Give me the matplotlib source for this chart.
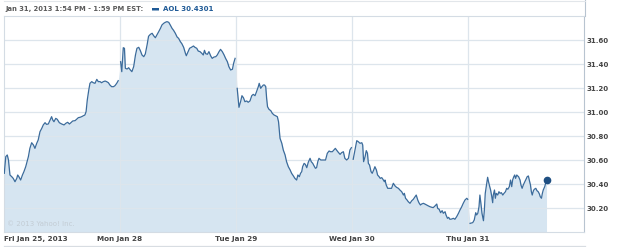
import numpy as np
import matplotlib.pyplot as plt
from matplotlib.lines import Line2D
from matplotlib.patches import FancyBboxPatch

# intraday AOL quotes, minutes after the 9:30 open, one list pair per session
day_labels = ["Fri Jan 25, 2013", "Mon Jan 28", "Tue Jan 29", "Wed Jan 30", "Thu Jan 31"]

fri_min = [1, 6, 11, 15, 20, 26, 31, 37, 43, 46, 50, 56, 62, 67, 73, 76, 82, 87, 93, 99,
           104, 110, 115, 121, 127, 132, 138, 143, 149, 155, 160, 164, 168, 174, 179, 186,
           194, 202, 208, 214, 220, 225, 231, 239, 244, 250, 256, 261, 267, 272, 276, 280,
           285, 289, 295, 300, 306, 312, 317, 323, 328, 334, 340, 345, 351, 356, 362, 368,
           373, 379, 384]
fri_px = [30.489, 30.628, 30.642, 30.600, 30.475, 30.461, 30.447, 30.419, 30.447, 30.475,
          30.461, 30.433, 30.475, 30.503, 30.544, 30.572, 30.628, 30.697, 30.744, 30.725,
          30.697, 30.739, 30.767, 30.836, 30.864, 30.892, 30.911, 30.897, 30.900, 30.933,
          30.961, 30.933, 30.919, 30.947, 30.939, 30.911, 30.900, 30.892, 30.906, 30.914,
          30.900, 30.911, 30.925, 30.928, 30.939, 30.953, 30.956, 30.961, 30.969, 30.975,
          31.003, 31.100, 31.183, 31.239, 31.253, 31.244, 31.239, 31.272, 31.253, 31.253,
          31.244, 31.253, 31.258, 31.253, 31.244, 31.225, 31.211, 31.211, 31.219, 31.239,
          31.261]

mon_min = [2, 6, 11, 15, 18, 24, 29, 35, 40, 46, 52, 57, 63, 68, 74, 80, 85, 91, 96, 102,
           108, 113, 119, 124, 130, 136, 141, 147, 152, 158, 164, 169, 175, 180, 186, 192,
           197, 203, 208, 214, 220, 223, 229, 234, 240, 247, 252, 258, 263, 269, 275, 280,
           284, 288, 294, 299, 305, 310, 316, 322, 327, 333, 338, 344, 350, 355, 361, 366,
           372, 378, 382, 387]
mon_px = [31.419, 31.336, 31.536, 31.531, 31.364, 31.358, 31.369, 31.350, 31.336, 31.378,
          31.475, 31.531, 31.539, 31.514, 31.475, 31.461, 31.483, 31.558, 31.631, 31.647,
          31.656, 31.636, 31.619, 31.642, 31.669, 31.697, 31.725, 31.739, 31.747, 31.753,
          31.747, 31.725, 31.697, 31.681, 31.656, 31.625, 31.614, 31.586, 31.569, 31.539,
          31.489, 31.469, 31.503, 31.531, 31.539, 31.550, 31.539, 31.531, 31.508, 31.503,
          31.489, 31.475, 31.514, 31.486, 31.481, 31.503, 31.467, 31.447, 31.458, 31.461,
          31.475, 31.503, 31.522, 31.503, 31.475, 31.447, 31.419, 31.378, 31.350, 31.356,
          31.406, 31.447]

tue_min = [4, 10, 16, 20, 25, 30, 36, 41, 47, 53, 58, 64, 69, 75, 78, 83, 87, 92, 96, 100,
           103, 106, 111, 117, 122, 128, 133, 139, 143, 146, 148, 154, 159, 165, 170, 176,
           182, 187, 193, 198, 204, 208, 213, 217, 221, 224, 229, 233, 238, 243, 249, 253,
           258, 262, 267, 271, 275, 279, 285, 290, 296, 301, 307, 313, 318, 324, 329, 334,
           338, 344, 350, 355, 361, 366, 372, 378, 383, 388]
tue_px = [31.197, 31.039, 31.092, 31.136, 31.119, 31.086, 31.092, 31.081, 31.092, 31.136,
          31.147, 31.136, 31.169, 31.211, 31.239, 31.197, 31.211, 31.225, 31.225, 31.211,
          31.114, 31.044, 31.022, 31.011, 30.989, 30.975, 30.969, 30.961, 30.919, 30.836,
          30.781, 30.739, 30.683, 30.642, 30.586, 30.544, 30.517, 30.489, 30.467, 30.447,
          30.433, 30.475, 30.461, 30.489, 30.503, 30.544, 30.572, 30.564, 30.536, 30.581,
          30.614, 30.586, 30.572, 30.553, 30.531, 30.536, 30.586, 30.614, 30.600, 30.600,
          30.600, 30.600, 30.656, 30.675, 30.669, 30.669, 30.683, 30.697, 30.683, 30.664,
          30.647, 30.661, 30.669, 30.614, 30.600, 30.614, 30.683, 30.703]

wed_min = [4, 10, 16, 21, 27, 33, 36, 39, 44, 48, 52, 55, 59, 64, 68, 73, 77, 82, 86, 91,
           95, 100, 104, 109, 111, 115, 120, 127, 133, 139, 145, 150, 156, 161, 167, 173,
           176, 180, 185, 189, 195, 201, 206, 212, 216, 221, 225, 230, 234, 240, 245, 251,
           257, 262, 268, 273, 279, 285, 288, 293, 298, 303, 307, 313, 316, 321, 325, 329,
           335, 341, 346, 352, 358, 363, 369, 374, 380, 386, 389]
wed_px = [30.606, 30.683, 30.761, 30.753, 30.739, 30.744, 30.725, 30.586, 30.628, 30.678,
          30.656, 30.572, 30.558, 30.503, 30.489, 30.517, 30.544, 30.517, 30.475, 30.461,
          30.447, 30.453, 30.439, 30.419, 30.433, 30.392, 30.364, 30.364, 30.364, 30.406,
          30.383, 30.372, 30.364, 30.350, 30.336, 30.308, 30.322, 30.281, 30.267, 30.253,
          30.239, 30.261, 30.272, 30.294, 30.308, 30.267, 30.244, 30.225, 30.233, 30.239,
          30.233, 30.225, 30.217, 30.211, 30.206, 30.203, 30.217, 30.233, 30.197, 30.189,
          30.161, 30.178, 30.156, 30.169, 30.142, 30.114, 30.122, 30.106, 30.108, 30.114,
          30.106, 30.128, 30.156, 30.183, 30.211, 30.239, 30.267, 30.281, 30.272]

thu_min = [7, 16, 21, 26, 29, 33, 37, 40, 44, 47, 52, 55, 58, 63, 66, 69, 73, 76, 80, 83,
           85, 89, 92, 95, 100, 104, 108, 112, 117, 121, 126, 130, 134, 139, 143, 147, 150,
           154, 157, 160, 164, 167, 170, 175, 178, 182, 186, 191, 195, 199, 203, 206, 210,
           213, 216, 220, 223, 228, 232, 236, 240, 243, 247, 250, 253, 258, 261, 264]
thu_px = [30.072, 30.078, 30.100, 30.161, 30.142, 30.156, 30.211, 30.308, 30.225, 30.156,
          30.094, 30.183, 30.322, 30.406, 30.456, 30.419, 30.378, 30.350, 30.294, 30.244,
          30.308, 30.350, 30.281, 30.322, 30.308, 30.336, 30.322, 30.328, 30.308, 30.322,
          30.336, 30.364, 30.356, 30.378, 30.433, 30.378, 30.433, 30.461, 30.475, 30.447,
          30.475, 30.467, 30.461, 30.433, 30.392, 30.364, 30.392, 30.419, 30.439, 30.461,
          30.467, 30.433, 30.392, 30.336, 30.308, 30.344, 30.356, 30.364, 30.344, 30.336,
          30.317, 30.294, 30.281, 30.322, 30.350, 30.378, 30.406, 30.4301]

sessions = [(fri_min, fri_px), (mon_min, mon_px), (tue_min, tue_px),
            (wed_min, wed_px), (thu_min, thu_px)]
y_ticks = [30.20, 30.40, 30.60, 30.80, 31.00, 31.20, 31.40, 31.60]

line_col = "#3b6b9b"
fill_col = "#d6e5f1"
grid_col = "#dde5ec"
text_col = "#444444"

fig = plt.figure(figsize=(6.25, 2.47), dpi=100)
ax = fig.add_axes([4 / 625, 15 / 247, 580 / 625, 216 / 247])

xs_all, ys_all = [], []
for d, (mins, px) in enumerate(sessions):
    x = d + np.array(mins) / 390.0
    ax.plot(x, px, color=line_col, lw=0.9, zorder=4)
    xs_all.extend(x)
    ys_all.extend(px)

ax.fill_between(xs_all, ys_all, 30.0, color=fill_col, lw=0, zorder=1)
ax.plot(xs_all[-1], ys_all[-1], "o", color="#1f4f82", ms=4.5, zorder=5)

ax.set_xlim(0, 5)
ax.set_ylim(30.0, 31.8)

for v in y_ticks:
    ax.axhline(v, color=grid_col, lw=0.9, zorder=2)
for d in range(1, 5):
    ax.axvline(d, color=grid_col, lw=0.9, zorder=2)

ax.yaxis.tick_right()
ax.set_yticks(y_ticks)
ax.set_yticklabels(["%.2f" % v for v in y_ticks], fontsize=5.0, fontweight="bold", color=text_col)
ax.set_xticks(range(5))
ax.set_xticklabels(day_labels, fontsize=5.2, fontweight="bold", color=text_col)
ax.get_xticklabels()[0].set_ha("left")
ax.tick_params(length=0, pad=3)
ax.tick_params(axis="y", pad=2)

for s in ["left", "top", "bottom"]:
    ax.spines[s].set_color("#d4dce4")
    ax.spines[s].set_linewidth(0.8)
ax.spines["right"].set_color("#b8c4d0")
ax.spines["right"].set_linewidth(0.8)

# bottom rule under the date labels and the right rule through the header
fig.add_artist(Line2D([4 / 625, 585 / 625], [1.5 / 247, 1.5 / 247], color="#d8dde2", lw=0.9))
fig.add_artist(Line2D([585 / 625, 585 / 625], [231 / 247, 1.0], color="#b8c4d0", lw=0.8))
fig.add_artist(Line2D([4 / 625, 585 / 625], [245.5 / 247, 245.5 / 247], color="#e2e6ea", lw=0.8))

ax.text(0.005, 0.025, "\u00a9 2013 Yahoo! Inc.", transform=ax.transAxes,
        fontsize=5, color="#c3ccd4", va="bottom")

fig.text(5 / 625, 1 - 9 / 247, "Jan 31, 2013 1:54 PM - 1:59 PM EST:", fontsize=4.85,
         fontweight="bold", color="#5a5a5a", va="center")
fig.add_artist(FancyBboxPatch((152 / 625, 1 - 10.5 / 247), 7 / 625, 2.5 / 247,
                              boxstyle="round,pad=0", color="#1f5a96", lw=0))
fig.text(163 / 625, 1 - 9 / 247, "AOL 30.4301", fontsize=5.0, fontweight="bold",
         color="#1f5a96", va="center")

fig.savefig("out.png", dpi=100)
